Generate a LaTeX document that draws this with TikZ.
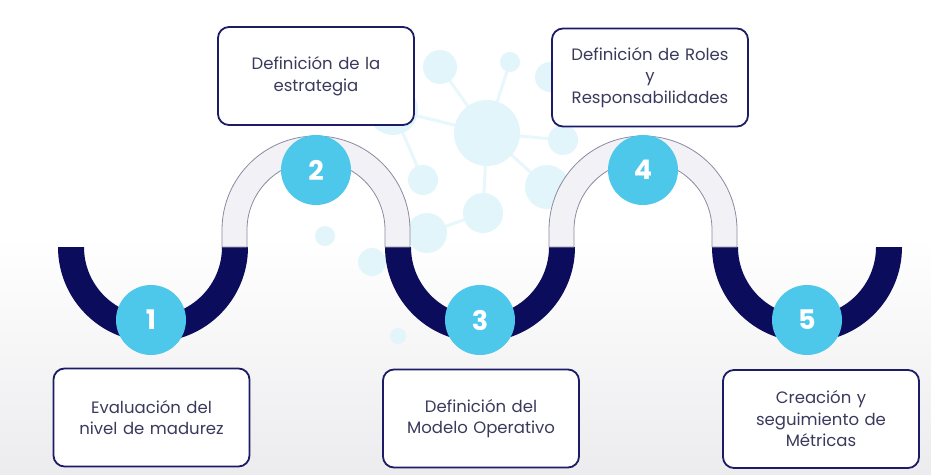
\documentclass[tikz,border=0pt]{standalone}
\usepackage{fontspec}
\setmainfont{Poppins}
\definecolor{navy}{HTML}{0C0C5C}
\definecolor{boxline}{HTML}{1C1C66}
\definecolor{cyanc}{HTML}{4DC8EA}
\definecolor{archfill}{HTML}{F2F2F6}
\definecolor{archline}{HTML}{8A8AA2}
\definecolor{txt}{HTML}{3A3A5C}
\definecolor{bub}{HTML}{E2F5FB}
\definecolor{bubl}{HTML}{E8F7FB}
\begin{document}
\begin{tikzpicture}[x=1pt,y=-1pt,
  stepbox/.style={draw=boxline,line width=1.8pt,rounded corners=11pt,fill=white,
    minimum width=196pt,minimum height=98pt,text width=192pt,align=center,
    text=txt,font=\fontsize{16.5}{21.5}\selectfont,inner sep=0pt},
  numdot/.style={circle,fill=cyanc,minimum size=70pt,inner sep=0pt,text=white,
    font=\fontsize{27}{27}\selectfont\bfseries},
  bubble/.style={fill=bub},
  bubline/.style={draw=bubl,line width=3pt}]
\useasboundingbox (0,0) rectangle (931,474);
\shade[top color=white,bottom color={rgb,255:red,236;green,236;blue,238},middle color=white] (0,0) rectangle (931,474);
% background molecule
\draw[bubline] (393,110) -- (487,133) -- (440,67);
\draw[bubline] (487,133) -- (510,62);
\draw[bubline] (487,133) -- (563,140) -- (550,77);
\draw[bubline] (487,133) -- (483,213) -- (427,233);
\draw[bubline] (487,133) -- (547,187);
\draw[bubline] (423,180) -- (393,110);
\fill[bubble] (487,133) circle (33);
\fill[bubble] (393,110) circle (25);
\fill[bubble] (440,67) circle (17);
\fill[bubble] (510,62) circle (10);
\fill[bubble] (550,77) circle (15);
\fill[bubble] (563,140) circle (15);
\fill[bubble] (547,187) circle (22);
\fill[bubble] (483,213) circle (20);
\fill[bubble] (423,180) circle (15);
\fill[bubble] (427,233) circle (20);
\fill[bubble] (325,236) circle (10);
\fill[bubble] (372,262) circle (14);
\fill[bubble] (398,336) circle (8);
% dark U shapes
\foreach \cx in {153,480,807}{
  \fill[navy] (\cx-95,247) arc[start angle=180,end angle=0,radius=95]
    -- (\cx+69,247) arc[start angle=0,end angle=180,radius=69] -- cycle;
}
% light arches
\foreach \cx in {316,643}{
  \draw[archline,fill=archfill,line width=0.8pt] (\cx-94,247) -- (\cx-94,230)
    arc[start angle=180,end angle=360,radius=94] -- (\cx+94,247)
    -- (\cx+69,247) -- (\cx+69,230)
    arc[start angle=360,end angle=180,radius=69] -- (\cx-69,247) -- cycle;
}
% number circles
\node[numdot] (n1) at (151,320) {1};
\node[numdot] (n2) at (316,170) {2};
\node[numdot] (n3) at (480,320) {3};
\node[numdot] (n4) at (643,170) {4};
\node[numdot] (n5) at (807,320) {5};
% boxes
\node[stepbox] (b1) at (151.5,417.5) {Evaluación del\\nivel de madurez};
\node[stepbox] (b2) at (316,76) {Definición de la\\estrategia};
\node[stepbox] (b3) at (481,418.5) {Definición del\\Modelo Operativo};
\node[stepbox] (b4) at (650,77.5) {Definición de Roles\\y\\Responsabilidades};
\node[stepbox] (b5) at (821,419) {Creación y\\seguimiento de\\Métricas};
\end{tikzpicture}
\end{document}
